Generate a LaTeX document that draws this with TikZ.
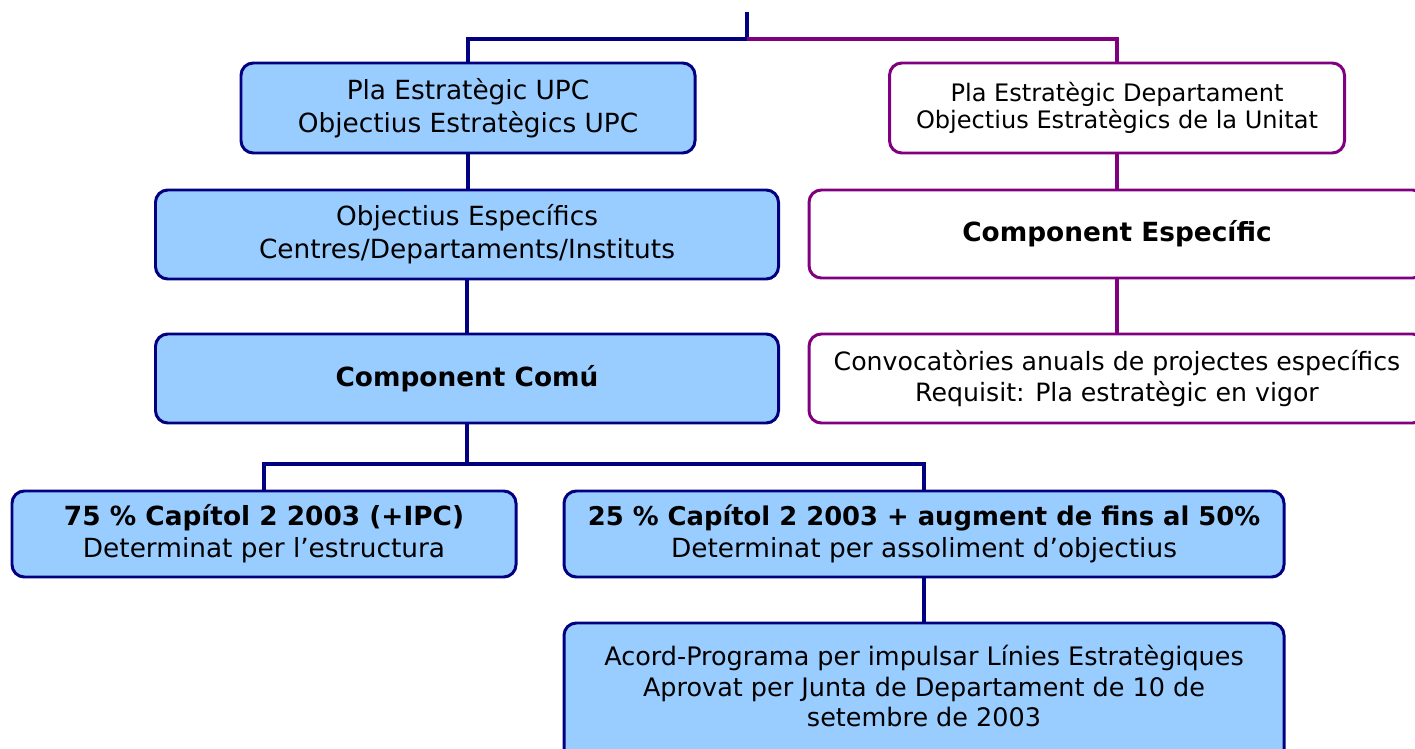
\documentclass[tikz,border=0pt]{standalone}
\usepackage{fontspec}
\setmainfont{DejaVu Sans}
\usepackage{tikz}
\usetikzlibrary{positioning}
\definecolor{upcfill}{RGB}{153, 204, 255}
\definecolor{upcnavy}{RGB}{0, 0, 128}
\definecolor{deptpurple}{RGB}{128, 0, 128}
\newcommand{\pxu}{0.02cm}

\tikzset{
    upcbox/.style={draw=upcnavy, fill=upcfill, line width=1.7pt, rounded corners=7pt, align=center, inner sep=0pt},
    deptbox/.style={draw=deptpurple, fill=white, line width=1.7pt, rounded corners=7pt, align=center, inner sep=0pt},
    upcline/.style={draw=upcnavy, line width=2.8pt},
    deptline/.style={draw=deptpurple, line width=2.8pt}
}

\begin{document}
\begin{tikzpicture}[x=0.02cm, y=-0.02cm]
    \useasboundingbox (0, 0) rectangle (1415, 749);
    \clip (0, 0) rectangle (1415, 749);

    % UPC branch
    \node[upcbox, minimum width=454*\pxu, minimum height=90*\pxu, font=\fontsize{15}{19}\selectfont] (upc) at (468, 108)
        {Pla Estratègic UPC\\Objectius Estratègics UPC};
    \node[upcbox, minimum width=623*\pxu, minimum height=89*\pxu, font=\fontsize{15}{18.7}\selectfont] (objectius) at (467, 234.5)
        {Objectius Específics\\Centres/Departaments/Instituts};
    \node[upcbox, minimum width=623*\pxu, minimum height=89*\pxu, font=\fontsize{15}{18}\bfseries] (comu) at (467, 378.5)
        {Component Comú};

    % Department branch
    \node[deptbox, minimum width=455*\pxu, minimum height=90*\pxu, font=\fontsize{13.7}{15.3}\selectfont] (dept) at (1117, 108)
        {Pla Estratègic Departament\\Objectius Estratègics de la Unitat};
    \node[deptbox, minimum width=616*\pxu, minimum height=88*\pxu, font=\fontsize{15}{18}\bfseries] (especific) at (1117, 234)
        {Component Específic};
    \node[deptbox, minimum width=616*\pxu, minimum height=89*\pxu, font=\fontsize{14.35}{17.6}\selectfont] (convocatories) at (1117, 378.5)
        {Convocatòries anuals de projectes específics\\Requisit: Pla estratègic en vigor};

    % Common component split
    \node[upcbox, minimum width=504*\pxu, minimum height=86*\pxu, font=\fontsize{15}{18}\selectfont] (fixe) at (264, 534)
        {\textbf{75 \% Capítol 2 2003 (+IPC)}\\Determinat per l’estructura};
    \node[upcbox, minimum width=720*\pxu, minimum height=86*\pxu, font=\fontsize{15}{18}\selectfont] (variable) at (924, 534)
        {{\fontsize{14.7}{18}\bfseries 25 \% Capítol 2 2003 + augment de fins al 50\%}\\Determinat per assoliment d’objectius};
    % box runs past the lower edge
    \node[upcbox, minimum width=720*\pxu, minimum height=166*\pxu, font=\fontsize{14.5}{17.3}\selectfont] (acord) at (924, 706)
        {Acord-Programa per impulsar Línies Estratègiques\\Aprovat per Junta de Departament de 10 de\\setembre de 2003\rule[-0.8cm]{0pt}{0.8cm}};

    % Connectors
    \coordinate (top) at (747, 12);
    \coordinate (split) at (747, 39);
    \coordinate (fork) at (467, 464);
    \draw[upcline] (top) -- (split);
    \draw[upcline] (upc.north) |- (split);
    \draw[deptline] (split) -| (dept.north);
    \draw[upcline] (upc.south) -- (upc.south |- objectius.north);
    \draw[upcline] (objectius.south) -- (comu.north);
    \draw[deptline] (dept.south) -- (especific.north);
    \draw[deptline] (especific.south) -- (convocatories.north);
    \draw[upcline] (comu.south) -- (fork);
    \draw[upcline] (fixe.north) |- (fork) -| (variable.north);
    \draw[upcline] (variable.south) -- (acord.north);

\end{tikzpicture}
\end{document}
